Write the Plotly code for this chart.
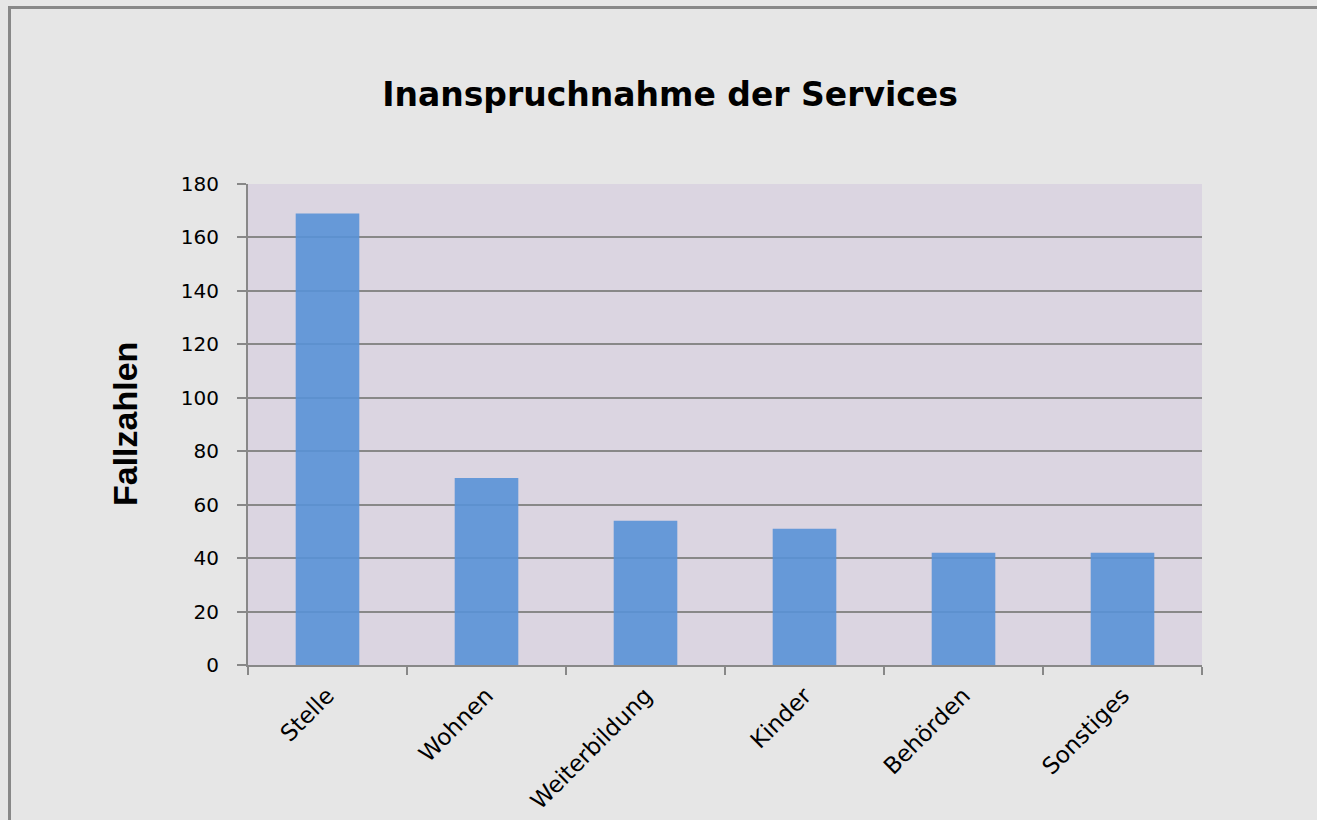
import plotly.graph_objects as go

categories = ["Stelle", "Wohnen", "Weiterbildung", "Kinder", "Behörden", "Sonstiges"]
values = [169, 70, 54, 51, 42, 42]
y_ticks = [0, 20, 40, 60, 80, 100, 120, 140, 160, 180]

W, H = 1317, 820
L, R, T, B = 248, 1202, 184, 665
pw, ph = R - L, B - T

fig = go.Figure(go.Bar(
    x=categories, y=values,
    marker=dict(color="rgb(89,146,215)", opacity=0.9, line=dict(width=0)),
    hoverinfo="x+y",
))

fx = (9.5 - L) / pw          # frame left edge in paper units
fy = (B - 7.5) / ph          # frame top edge in paper units

fig.update_layout(
    width=W, height=H,
    margin=dict(l=L, r=W - R, t=T, b=H - B, pad=0, autoexpand=False),
    paper_bgcolor="#e6e6e6",
    plot_bgcolor="#dbd5e1",
    bargap=0.6,
    showlegend=False,
    title=dict(
        text="Inanspruchnahme der Services",
        font=dict(family="DejaVu Sans", size=33, color="black", weight="bold"),
        x=670 / W, xref="container", xanchor="center",
        y=1 - 94 / H, yref="container", yanchor="middle",
    ),
    xaxis=dict(
        automargin=False,
        showline=True, linecolor="#888888", linewidth=2,
        ticks="outside", tickson="boundaries", ticklen=8, tickwidth=2, tickcolor="#888888",
        tickangle=-45, ticklabelstandoff=6,
        tickfont=dict(family="DejaVu Sans", size=23, color="black"),
        showgrid=False, zeroline=False,
    ),
    yaxis=dict(
        automargin=False,
        range=[0, 180], tickvals=y_ticks,
        showline=True, linecolor="#888888", linewidth=2,
        ticks="outside", ticklen=9, tickwidth=2, tickcolor="#888888",
        ticklabelstandoff=14,
        tickfont=dict(family="DejaVu Sans", size=20, color="black"),
        showgrid=True, gridcolor="#888888", gridwidth=1.5,
        zeroline=False,
    ),
    shapes=[
        dict(type="line", xref="paper", yref="paper",
             x0=fx, x1=fx, y0=-0.6, y1=fy + 0.003,
             line=dict(color="#888888", width=3), layer="below"),
        dict(type="line", xref="paper", yref="paper",
             x0=fx - 0.001, x1=1.3, y0=fy, y1=fy,
             line=dict(color="#888888", width=3), layer="below"),
    ],
    annotations=[dict(
        text="<b>Fallzahlen</b>", textangle=-90,
        xref="paper", yref="paper",
        x=(125 - L) / pw, y=(B - 424) / ph,
        xanchor="center", yanchor="middle", showarrow=False,
        font=dict(family="Liberation Sans", size=34, color="black"),
    )],
)

fig.write_html(
    "out.html",
    config={"displayModeBar": False},
    post_script=(
        "document.documentElement.style.overflow='hidden';"
        "document.documentElement.style.margin='0';"
        "document.body.style.margin='0';"
        "document.body.style.overflow='hidden';"
        "document.body.style.background='#e6e6e6';"
    ),
)
